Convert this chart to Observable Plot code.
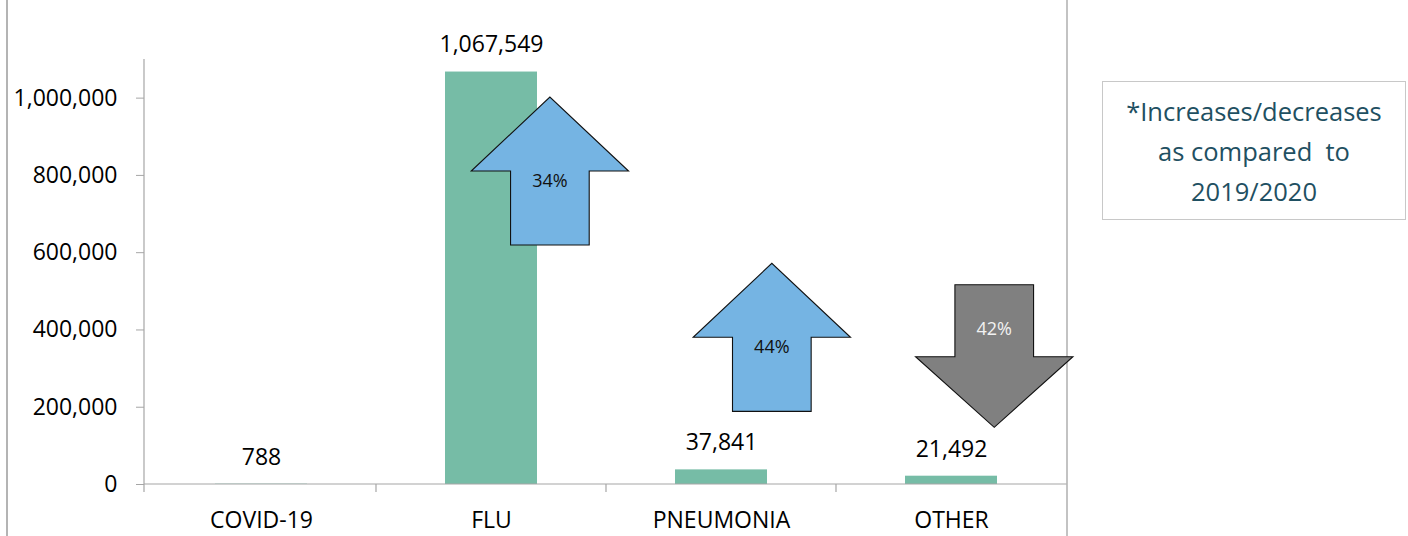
<!DOCTYPE html>
<html>
<head>
<meta charset="utf-8">
<script src="https://cdn.jsdelivr.net/npm/d3@7"></script>
<script src="https://cdn.jsdelivr.net/npm/@observablehq/plot@0.6"></script>
<style>
html, body { margin: 0; padding: 0; background: #fff; }
#wrap { position: relative; width: 1408px; height: 536px; overflow: hidden; font-family: "Open Sans", sans-serif; }
#chart { position: absolute; left: 0; top: 0; }
#leftBorder { position: absolute; left: 6px; top: 0; width: 2px; height: 536px; background: #b4b4b4; }
#note { position: absolute; left: 1102px; top: 81px; width: 304px; height: 139px; box-sizing: border-box;
  border: 1.5px solid #c8c8c8; display: flex; flex-direction: column; justify-content: center; align-items: center;
  color: #1f5062; font-size: 25.5px; line-height: 40px; text-align: center; white-space: pre; }
</style>
</head>
<body>
<div id="wrap">
  <div id="chart"></div>
  <div id="leftBorder"></div>
  <div id="note"></div>
</div>
<script>
// ---- data ----
const categories = ["COVID-19", "FLU", "PNEUMONIA", "OTHER"];
const cases = [788, 1067549, 37841, 21492];
const yTicks = [0, 200000, 400000, 600000, 800000, 1000000];
const changeCategories = ["FLU", "PNEUMONIA", "OTHER"];
const changeLabels = ["34%", "44%", "42%"];
const changeDirections = ["up", "up", "down"];
const noteLines = ["*Increases/decreases", "as compared  to", "2019/2020"];

// ---- arrow annotation geometry (in y-data units; offset / widths in band steps) ----
const arrowLayout = [
  { tail: 618500, base: 810000, tip: 1001600, text: 786700, offset: 0.256 },
  { tail: 188100, base: 379700, tip: 571200, text: 357900, offset: 0.221 },
  { tail: 515800, base: 329500, tip: 146700, text: 402900, offset: 0.188 }
];
const headHalf = 0.342, shaftHalf = 0.171;

const barColor = "#76bca6";
const upColor = "#75b4e3";
const downColor = "#808080";
const axisColor = "#a6a6a6";

const rows = categories.map((c, i) => ({ cat: c, value: cases[i] }));

function bandInfo(x) {
  const bw = x.bandwidth ? x.bandwidth() : 0;
  const step = x.step ? x.step() : (x(categories[1]) - x(categories[0]));
  return { bw, step };
}

function frameLines(index, scales, values, dims) {
  const { width, height, marginLeft, marginRight, marginTop } = dims;
  const x = scales.x, y = scales.y;
  const { bw, step } = bandInfo(x);
  const y0 = y(0);
  const left = marginLeft, right = width - marginRight;
  const g = d3.create("svg:g").attr("fill", "none");
  g.append("line").attr("x1", left).attr("x2", left).attr("y1", marginTop).attr("y2", y0 + 8)
    .attr("stroke", axisColor).attr("stroke-width", 1.2);
  g.append("line").attr("x1", left).attr("x2", right).attr("y1", y0).attr("y2", y0)
    .attr("stroke", axisColor).attr("stroke-width", 1.2);
  categories.slice(1).forEach(c => {
    const bx = x(c) + bw / 2 - step / 2;
    g.append("line").attr("x1", bx).attr("x2", bx).attr("y1", y0).attr("y2", y0 + 8)
      .attr("stroke", axisColor).attr("stroke-width", 1.2);
  });
  g.append("line").attr("x1", right).attr("x2", right).attr("y1", 0).attr("y2", height)
    .attr("stroke", "#b4b4b4").attr("stroke-width", 1.6);
  return g.node();
}

function arrowsMark(index, scales, values, dims) {
  const x = scales.x, y = scales.y;
  const { bw, step } = bandInfo(x);
  const g = d3.create("svg:g");
  changeCategories.forEach((c, i) => {
    const L = arrowLayout[i];
    const cx = x(c) + bw / 2 + L.offset * step;
    const hw = headHalf * step, sw = shaftHalf * step;
    const yt = y(L.tail), yb = y(L.base), yp = y(L.tip);
    const pts = [[cx - sw, yt], [cx - sw, yb], [cx - hw, yb], [cx, yp], [cx + hw, yb], [cx + sw, yb], [cx + sw, yt]];
    const up = changeDirections[i] === "up";
    g.append("polygon")
      .attr("points", pts.map(p => p.join(",")).join(" "))
      .attr("fill", up ? upColor : downColor)
      .attr("stroke", "#111").attr("stroke-width", 1.1).attr("stroke-linejoin", "miter");
    g.append("text")
      .attr("x", cx).attr("y", y(L.text))
      .attr("text-anchor", "middle").attr("dominant-baseline", "central")
      .attr("font-size", 18).attr("font-family", "Open Sans")
      .attr("fill", up ? "#111" : "#f2f2f2")
      .text(changeLabels[i]);
  });
  return g.node();
}

const chart = Plot.plot({
  width: 1408,
  height: 536,
  marginLeft: 144,
  marginRight: 341,
  marginTop: 59,
  marginBottom: 52,
  style: { fontFamily: "Open Sans", fontSize: "23px", color: "#000", background: "transparent", overflow: "visible" },
  x: { domain: categories, paddingInner: 0.6, paddingOuter: 0.3, label: null },
  y: { domain: [0, 1100000], label: null },
  marks: [
    Plot.barY(rows, { x: "cat", y: "value", fill: barColor }),
    Plot.axisY({ ticks: yTicks, tickFormat: d3.format(","), tickSize: 8, tickPadding: 19, fontSize: 23, stroke: axisColor, label: null }),
    Plot.axisX({ tickSize: 0, tickPadding: 27, fontSize: 23, label: null }),
    frameLines,
    Plot.text(rows, { x: "cat", y: "value", text: d => d3.format(",")(d.value), dy: -27, fontSize: 23, fill: "#000" }),
    arrowsMark
  ]
});
document.getElementById("chart").appendChild(chart);

const note = document.getElementById("note");
noteLines.forEach(t => {
  const d = document.createElement("div");
  d.textContent = t;
  note.appendChild(d);
});
</script>
</body>
</html>
